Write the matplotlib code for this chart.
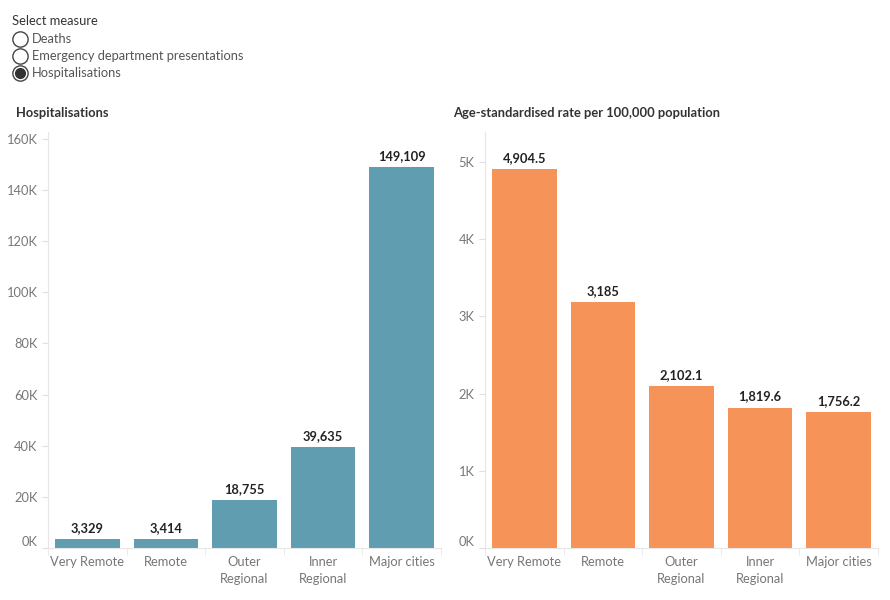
import matplotlib.pyplot as plt
from matplotlib.lines import Line2D
from matplotlib.transforms import ScaledTranslation

# valores
categorias = ['Very Remote', 'Remote', 'Outer\nRegional', 'Inner\nRegional', 'Major cities']
hospitalizacoes = [3329, 3414, 18755, 39635, 149109]
taxa = [4904.5, 3185, 2102.1, 1819.6, 1756.2]
rotulos_hosp = ['3,329', '3,414', '18,755', '39,635', '149,109']
rotulos_taxa = ['4,904.5', '3,185', '2,102.1', '1,819.6', '1,756.2']
ticks_hosp = [0, 20000, 40000, 60000, 80000, 100000, 120000, 140000, 160000]
ticks_taxa = [0, 1000, 2000, 3000, 4000, 5000]
opcoes = ['Deaths', 'Emergency department presentations', 'Hospitalisations']

plt.rcParams['font.family'] = ['Lato', 'DejaVu Sans']

fig = plt.figure(figsize=(8.9, 6), dpi=100)
W, H = 890, 600

# seletor de medida (radio buttons)
fig.text(12 / W, 1 - 21 / H, 'Select measure', fontsize=9.3, color='#333333', va='center')
for i, op in enumerate(opcoes):
    y = 1 - (39 + i * 17) / H
    fig.add_artist(Line2D([20 / W], [y], marker='o', markersize=11, markerfacecolor='white',
                          markeredgecolor='#444444', markeredgewidth=1, transform=fig.transFigure))
    if op == 'Hospitalisations':
        fig.add_artist(Line2D([20 / W], [y], marker='o', markersize=7, markerfacecolor='#333333',
                              markeredgecolor='#333333', transform=fig.transFigure))
    fig.text(32 / W, y, op, fontsize=9.3, color='#555555', va='center')


def desenha(ax, valores, rotulos, ticks, ylim, cor, fmt):
    x = range(len(categorias))
    ax.bar(x, valores, width=0.82, color=cor)
    for xi, v, r in zip(x, valores, rotulos):
        ax.text(xi, v + ylim * 0.012, r, ha='center', va='bottom', fontsize=9.3,
                fontweight='bold', color='#222222')
    ax.set_xlim(-0.5, len(categorias) - 0.5)
    ax.set_ylim(0, ylim)
    ax.set_yticks(ticks)
    ax.set_yticklabels([fmt(t) for t in ticks])
    ax.set_xticks(list(x))
    ax.set_xticklabels(categorias, linespacing=1.45)
    ax.set_xticks([i + 0.5 for i in range(-1, len(categorias))], minor=True)
    for s in ['top', 'right']:
        ax.spines[s].set_visible(False)
    ax.spines['left'].set_color('#e6e6e6')
    ax.spines['bottom'].set_color('#e6e6e6')
    ax.tick_params(axis='y', colors='#e0e0e0', labelcolor='#777777', labelsize=9.3, length=4)
    ax.tick_params(axis='x', which='major', length=0, labelcolor='#777777', labelsize=9.3, pad=6)
    ax.tick_params(axis='x', which='minor', length=5, color='#e6e6e6')
    # o rótulo 0K fica um pouco acima da linha base
    zero = ax.get_yticklabels()[0]
    zero.set_transform(zero.get_transform() + ScaledTranslation(0, 7 / 100, fig.dpi_scale_trans))


ax1 = fig.add_axes([48 / W, 1 - 548 / H, 393 / W, 416 / H])
desenha(ax1, hospitalizacoes, rotulos_hosp, ticks_hosp, 162700, '#609DB1',
        lambda t: f'{int(t / 1000)}K')
fig.text(16 / W, 1 - 113 / H, 'Hospitalisations', fontsize=9.3, fontweight='bold',
         color='#333333', va='center')

ax2 = fig.add_axes([485 / W, 1 - 548 / H, 393 / W, 416 / H])
desenha(ax2, taxa, rotulos_taxa, ticks_taxa, 5390, '#F59358',
        lambda t: f'{int(t / 1000)}K')
fig.text(453 / W, 1 - 113 / H, 'Age-standardised rate per 100,000 population', fontsize=9.3,
         fontweight='bold', color='#333333', va='center')

plt.savefig('out.png', dpi=100)
plt.close()
